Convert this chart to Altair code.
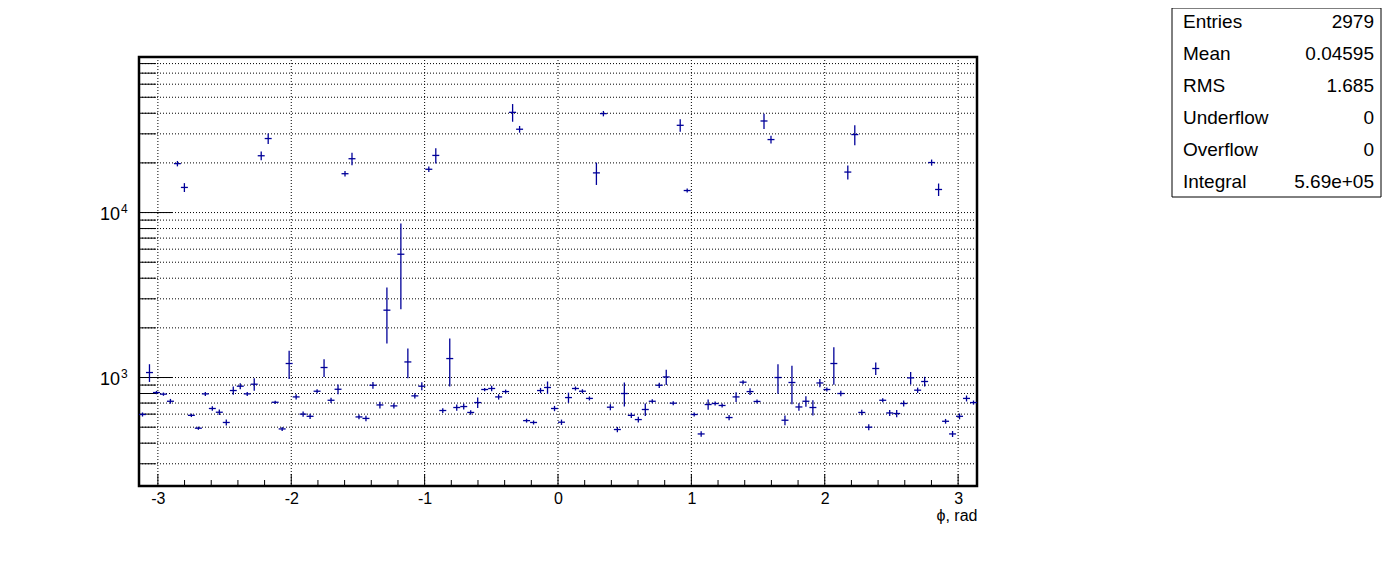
import math
import altair as alt
import pandas as pd

# ---- data ----
n_bins = 120
phi_lo, phi_hi = -math.pi, math.pi

counts = [597, 1072, 811, 793, 718, 19800, 14200, 590, 493, 796,
          649, 616, 534, 834, 886, 796, 911, 22100, 28100, 708,
          488, 1216, 763, 600, 582, 826, 1150, 728, 849, 17200,
          21200, 577, 565, 898, 682, 2560, 673, 5590, 1243, 774,
          886, 18300, 22200, 631, 1303, 658, 667, 614, 705, 846,
          858, 763, 822, 40500, 32000, 548, 534, 834, 870, 649,
          536, 756, 858, 826, 747, 17400, 39800, 661, 484, 800,
          590, 556, 640, 718, 898, 1008, 699, 33800, 13600, 597,
          455, 686, 696, 677, 572, 763, 937, 822, 716, 35900,
          27700, 1000, 551, 933, 663, 718, 658, 927, 846, 1216,
          800, 17600, 29700, 614, 500, 1134, 728, 610, 605, 696,
          995, 838, 946, 20100, 13800, 543, 455, 582, 747, 705]

errors = [17, 132, 19, 18, 24, 750, 880, 14, 11, 22,
          21, 23, 22, 48, 37, 22, 79, 1370, 2020, 16,
          14, 236, 28, 22, 22, 23, 141, 27, 58, 650,
          1840, 19, 21, 42, 32, 950, 25, 3000, 254, 29,
          50, 700, 2380, 21, 420, 28, 28, 20, 51, 19,
          32, 28, 23, 4980, 1500, 15, 15, 31, 76, 24,
          20, 54, 24, 23, 21, 2700, 1500, 28, 18, 133,
          22, 23, 56, 20, 33, 108, 20, 2940, 380, 17,
          17, 49, 19, 19, 21, 52, 26, 39, 20, 3840,
          1470, 204, 37, 244, 35, 52, 70, 53, 24, 311,
          30, 1720, 4130, 23, 21, 99, 20, 26, 31, 29,
          87, 31, 64, 860, 1200, 18, 19, 24, 31, 20]

x_major = [-3, -2, -1, 0, 1, 2, 3]
x_minor = [-2.8, -2.6, -2.4, -2.2, -1.8, -1.6, -1.4, -1.2, -0.8, -0.6, -0.4, -0.2,
           0.2, 0.4, 0.6, 0.8, 1.2, 1.4, 1.6, 1.8, 2.2, 2.4, 2.6, 2.8]
y_major = [1000, 10000]
y_major_exp = ["3", "4"]
y_minor = [300, 400, 500, 600, 700, 800, 900,
           2000, 3000, 4000, 5000, 6000, 7000, 8000, 9000,
           20000, 30000, 40000, 50000, 60000, 70000, 80000]

stat_names = ["Entries", "Mean", "RMS", "Underflow", "Overflow", "Integral"]
stat_values = ["2979", "0.04595", "1.685", "0", "0", "5.69e+05"]

# ---- tables ----
bw = (phi_hi - phi_lo) / n_bins
centers = [phi_lo + (i + 0.5) * bw for i in range(n_bins)]
df = pd.DataFrame({
    "phi": centers,
    "lo": [c - bw / 2 for c in centers],
    "hi": [c + bw / 2 for c in centers],
    "val": counts,
    "ylo": [v - e for v, e in zip(counts, errors)],
    "yhi": [v + e for v, e in zip(counts, errors)],
})

W, H = 838, 429
BLUE = "#000099"
FONT = "Liberation Sans"

xscale = alt.Scale(domain=[phi_lo, phi_hi], nice=False, zero=False)
yscale = alt.Scale(type="log", domain=[220, 87700], nice=False)

xaxis = alt.Axis(values=x_major, labelExpr="'' + datum.value", title="\u03d5, rad", grid=False,
                 ticks=False, domain=False, labelPadding=4, labelFontSize=16, labelFont=FONT,
                 labelColor="black", titleFont=FONT, titleFontSize=16, titleFontWeight="normal",
                 titleColor="black", titleAnchor="end", titlePadding=1)
yaxis = alt.Axis(values=y_major, title="", grid=False, ticks=False, domain=False,
                 labels=False)


def X(field):
    return alt.X(field, type="quantitative", scale=xscale, axis=xaxis)


def Y(field):
    return alt.Y(field, type="quantitative", scale=yscale, axis=yaxis)


grid_y = alt.Chart(pd.DataFrame({"g": y_major + y_minor})).mark_rule(
    color="black", strokeWidth=1, strokeDash=[1, 2]
).encode(x=alt.value(0), x2=alt.value(W), y=Y("g"))

grid_x = alt.Chart(pd.DataFrame({"g": x_major})).mark_rule(
    color="black", strokeWidth=1, strokeDash=[1, 2]
).encode(x=X("g"), y=alt.value(0), y2=alt.value(H))

tick_y_major = alt.Chart(pd.DataFrame({"t": y_major})).mark_rule(color="black", strokeWidth=1).encode(
    x=alt.value(0), x2=alt.value(33), y=Y("t"))
tick_y_minor = alt.Chart(pd.DataFrame({"t": y_minor})).mark_rule(color="black", strokeWidth=1).encode(
    x=alt.value(0), x2=alt.value(17), y=Y("t"))
tick_x_major = alt.Chart(pd.DataFrame({"t": x_major})).mark_rule(color="black", strokeWidth=1).encode(
    x=X("t"), y=alt.value(H), y2=alt.value(H - 12))
tick_x_minor = alt.Chart(pd.DataFrame({"t": x_minor})).mark_rule(color="black", strokeWidth=1).encode(
    x=X("t"), y=alt.value(H), y2=alt.value(H - 6))

ylab_df = pd.DataFrame({"t": y_major, "base": ["10", "10"], "exp": y_major_exp})
ylab_base = alt.Chart(ylab_df).mark_text(
    align="right", baseline="middle", font=FONT, fontSize=18, color="black", dy=2
).encode(x=alt.value(-19), y=Y("t"), text="base:N")
ylab_exp = alt.Chart(ylab_df).mark_text(
    align="left", baseline="middle", font=FONT, fontSize=12, color="black", dy=-4
).encode(x=alt.value(-18), y=Y("t"), text="exp:N")

err_v = alt.Chart(df).mark_rule(color=BLUE, strokeWidth=1.3).encode(
    x=X("phi"), y=Y("ylo"), y2="yhi")
err_h = alt.Chart(df).mark_rule(color=BLUE, strokeWidth=1.3).encode(
    x=X("lo"), x2="hi", y=Y("val"))

# stats box (outside the frame, to the right)
box = alt.Chart(pd.DataFrame({"a": [0]})).mark_rect(
    fill="white", stroke="black", strokeWidth=1
).encode(x=alt.value(1033), x2=alt.value(1242), y=alt.value(-49), y2=alt.value(140))

stats_df = pd.DataFrame({"name": stat_names, "value": stat_values, "row": list(range(len(stat_names)))})
row_y = alt.Scale(domain=[0, 5], range=[-35, 125])
stat_left = alt.Chart(stats_df).mark_text(
    align="left", baseline="middle", font=FONT, fontSize=19, color="black"
).encode(x=alt.value(1044), y=alt.Y("row:Q", scale=row_y, axis=None), text="name:N")
stat_right = alt.Chart(stats_df).mark_text(
    align="right", baseline="middle", font=FONT, fontSize=19, color="black"
).encode(x=alt.value(1235), y=alt.Y("row:Q", scale=row_y, axis=None), text="value:N")

main = alt.layer(grid_y, grid_x, tick_y_major, tick_y_minor, tick_x_major, tick_x_minor,
                 ylab_base, ylab_exp, err_v, err_h).properties(width=W, height=H)
stats = alt.layer(box, stat_left, stat_right).properties(width=W, height=H)

chart = alt.layer(main, stats).resolve_scale(y="independent").properties(
    width=W, height=H,
    autosize=alt.AutoSizeParams(type="none"),
    padding={"left": 131, "top": 49, "right": 411, "bottom": 60},
    background="white",
).configure_view(stroke="black", strokeWidth=2.5)

chart.save("out.html", embed_options={"renderer": "svg", "actions": False})
